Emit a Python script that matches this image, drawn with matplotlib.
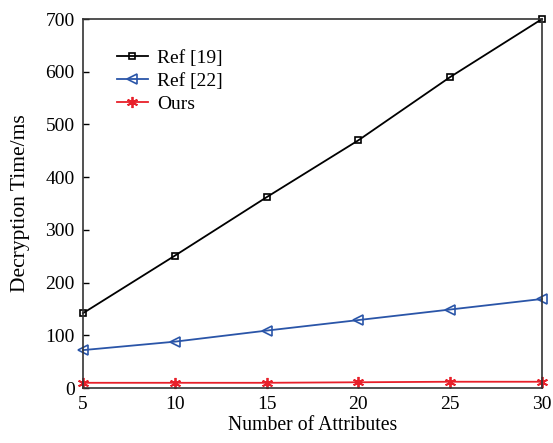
import matplotlib
matplotlib.use("Agg")
import matplotlib.pyplot as plt

plt.rcParams['font.family'] = ['Liberation Serif', 'DejaVu Serif']
plt.rcParams['mathtext.fontset'] = 'stix'

attributes = [5, 10, 15, 20, 25, 30]
ref19 = [142, 251, 362, 470, 590, 700]
ref22 = [72, 88, 109, 129, 149, 169]
ours = [10, 10, 10, 11, 12, 12]
labels = ["Ref [19]", "Ref [22]", "Ours"]

fig = plt.figure(figsize=(5.53, 4.43), dpi=100)
ax = fig.add_axes([0.150, 0.124, 0.830, 0.833])

ax.plot(attributes, ref19, color='black', lw=1.3, marker='s', ms=5,
        mfc='none', mec='black', mew=1.2, label=labels[0], clip_on=False)
ax.plot(attributes, ref22, color='#2a55a8', lw=1.3, marker='<', ms=7,
        mfc='none', mec='#2a55a8', mew=1.2, label=labels[1], clip_on=False)
ax.plot(attributes, ours, color='#e8202a', lw=1.3, marker=(6, 2, 0), ms=8,
        mec='#e8202a', mew=1.3, label=labels[2], clip_on=False)

ax.set_xlim(5, 30)
ax.set_ylim(0, 700)
ax.set_xticks([5, 10, 15, 20, 25, 30])
ax.set_yticks(range(0, 701, 100))
ax.tick_params(direction='in', labelsize=14, length=4, width=1, pad=6)
for s in ax.spines.values():
    s.set_linewidth(1.2)
    s.set_color('#333333')

ax.set_xlabel("Number of Attributes", fontsize=14.2, labelpad=2)
ax.set_ylabel("Decryption Time/ms", fontsize=15.5, labelpad=11)

leg = ax.legend(loc='upper left', bbox_to_anchor=(0.074, 0.917), frameon=False,
                fontsize=14, handlelength=1.6, handletextpad=0.45,
                labelspacing=0.27, borderaxespad=0, borderpad=0)

fig.savefig("out.png", dpi=100)
